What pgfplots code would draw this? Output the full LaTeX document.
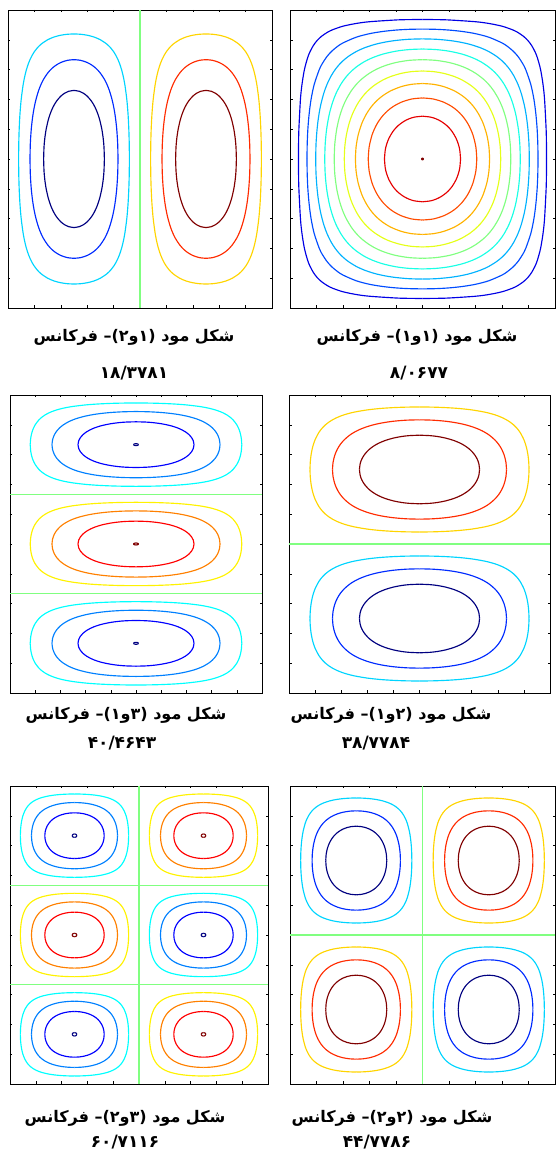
\documentclass[border=0pt]{standalone}
\usepackage{pgfplots}
\usepackage{pgfplotstable}
\pgfplotsset{compat=1.18}
\usepackage{fontspec}
\TeXXeTstate=1
\newfontfamily\fa[Script=Arabic]{DejaVu Sans}

% jet colours
\definecolor{j1}{rgb}{0,0,0.9}
\definecolor{j2}{rgb}{0,0.3,1}
\definecolor{j3}{rgb}{0,0.7,1}
\definecolor{j4}{rgb}{0.1,1,0.9}
\definecolor{j5}{rgb}{0.5,1,0.5}
\definecolor{j6}{rgb}{0.9,1,0.1}
\definecolor{j7}{rgb}{1,0.7,0}
\definecolor{j8}{rgb}{1,0.3,0}
\definecolor{j9}{rgb}{0.9,0,0}
\definecolor{j10}{rgb}{0.5,0,0}
\definecolor{n1}{rgb}{0,0.833,1}
\definecolor{n2}{rgb}{0,0.167,1}
\definecolor{n3}{rgb}{0,0,0.5}
\definecolor{p1}{rgb}{1,0.833,0}
\definecolor{p2}{rgb}{1,0.167,0}
\definecolor{p3}{rgb}{0.5,0,0}
\definecolor{m1}{rgb}{0,1,1}
\definecolor{m2}{rgb}{0,0.5,1}
\definecolor{m3}{rgb}{0,0,1}
\definecolor{m4}{rgb}{0,0,0.5}
\definecolor{q1}{rgb}{1,0.95,0}
\definecolor{q2}{rgb}{1,0.5,0}
\definecolor{q3}{rgb}{1,0,0}
\definecolor{q4}{rgb}{0.5,0,0}
\definecolor{gz}{rgb}{0.5,1,0.5}

% quarter contours of sin(pi u) sin(pi v) = c in a unit cell
\pgfplotstableread[row sep=\\]{u v\\
0.0319 0.50\\ 0.0323 0.45\\ 0.0335 0.40\\ 0.0394 0.30\\ 0.0452 0.25\\ 0.0544 0.20\\ 0.0666 0.16\\ 0.0755 0.14\\ 0.0876 0.12\\ 0.0954 0.11\\ 0.1024 0.1024\\
0.11 0.0954\\ 0.12 0.0876\\ 0.14 0.0755\\ 0.16 0.0666\\ 0.20 0.0544\\ 0.25 0.0452\\ 0.30 0.0394\\ 0.40 0.0335\\ 0.45 0.0323\\ 0.50 0.0319\\
}\lvA
\pgfplotstableread[row sep=\\]{u v\\
0.0641 0.50\\ 0.0649 0.45\\ 0.0674 0.40\\ 0.0721 0.35\\ 0.0795 0.30\\ 0.0913 0.25\\ 0.1105 0.20\\ 0.1218 0.18\\ 0.1363 0.16\\ 0.1476 0.1476\\
0.16 0.1363\\ 0.18 0.1218\\ 0.20 0.1105\\ 0.25 0.0913\\ 0.30 0.0795\\ 0.35 0.0721\\ 0.40 0.0674\\ 0.45 0.0649\\ 0.50 0.0641\\
}\lvB
\pgfplotstableread[row sep=\\]{u v\\
0.0804 0.50\\ 0.0815 0.45\\ 0.0847 0.40\\ 0.0905 0.35\\ 0.1000 0.30\\ 0.1150 0.25\\ 0.1283 0.22\\ 0.1398 0.20\\ 0.1545 0.18\\ 0.1667 0.1667\\
0.18 0.1545\\ 0.20 0.1398\\ 0.22 0.1283\\ 0.25 0.1150\\ 0.30 0.1000\\ 0.35 0.0905\\ 0.40 0.0847\\ 0.45 0.0815\\ 0.50 0.0804\\
}\lvQ
\pgfplotstableread[row sep=\\]{u v\\
0.0970 0.50\\ 0.0982 0.45\\ 0.1022 0.40\\ 0.1076 0.36\\ 0.1156 0.32\\ 0.1273 0.28\\ 0.1395 0.25\\ 0.1560 0.22\\ 0.1705 0.20\\ 0.1845 0.1845\\
0.20 0.1705\\ 0.22 0.1560\\ 0.25 0.1395\\ 0.28 0.1273\\ 0.32 0.1156\\ 0.36 0.1076\\ 0.40 0.1022\\ 0.45 0.0982\\ 0.50 0.0970\\
}\lvC
\pgfplotstableread[row sep=\\]{u v\\
0.1310 0.50\\ 0.1328 0.45\\ 0.1382 0.40\\ 0.1482 0.35\\ 0.1607 0.31\\ 0.1737 0.28\\ 0.1914 0.25\\ 0.2068 0.23\\ 0.2180 0.2180\\
0.23 0.2068\\ 0.25 0.1914\\ 0.28 0.1737\\ 0.31 0.1607\\ 0.35 0.1482\\ 0.40 0.1382\\ 0.45 0.1328\\ 0.50 0.1310\\
}\lvD
\pgfplotstableread[row sep=\\]{u v\\
0.1667 0.50\\ 0.1690 0.45\\ 0.1762 0.40\\ 0.1864 0.36\\ 0.1973 0.33\\ 0.2121 0.30\\ 0.2322 0.27\\ 0.25 0.25\\
0.27 0.2322\\ 0.30 0.2121\\ 0.33 0.1973\\ 0.36 0.1864\\ 0.40 0.1762\\ 0.45 0.1690\\ 0.50 0.1667\\
}\lvE
\pgfplotstableread[row sep=\\]{u v\\
0.2048 0.50\\ 0.2067 0.46\\ 0.2127 0.42\\ 0.2233 0.38\\ 0.2352 0.35\\ 0.2516 0.32\\ 0.2660 0.30\\ 0.2820 0.2820\\
0.30 0.2660\\ 0.32 0.2516\\ 0.35 0.2352\\ 0.38 0.2233\\ 0.42 0.2127\\ 0.46 0.2067\\ 0.50 0.2048\\
}\lvF
\pgfplotstableread[row sep=\\]{u v\\
0.2468 0.50\\ 0.2493 0.46\\ 0.2571 0.42\\ 0.2713 0.38\\ 0.2877 0.35\\ 0.3023 0.33\\ 0.3155 0.3155\\
0.33 0.3023\\ 0.35 0.2877\\ 0.38 0.2713\\ 0.42 0.2571\\ 0.46 0.2493\\ 0.50 0.2468\\
}\lvG
\pgfplotstableread[row sep=\\]{u v\\
0.2699 0.50\\ 0.2728 0.46\\ 0.2790 0.43\\ 0.2892 0.40\\ 0.3045 0.37\\ 0.3185 0.35\\ 0.3333 0.3333\\
0.35 0.3185\\ 0.37 0.3045\\ 0.40 0.2892\\ 0.43 0.2790\\ 0.46 0.2728\\ 0.50 0.2699\\
}\lvT
\pgfplotstableread[row sep=\\]{u v\\
0.2952 0.50\\ 0.2986 0.46\\ 0.3094 0.42\\ 0.3236 0.39\\ 0.3370 0.37\\ 0.3524 0.3524\\
0.37 0.3370\\ 0.39 0.3236\\ 0.42 0.3094\\ 0.46 0.2986\\ 0.50 0.2952\\
}\lvH
\pgfplotstableread[row sep=\\]{u v\\
0.3564 0.50\\ 0.3594 0.47\\ 0.3649 0.45\\ 0.3736 0.43\\ 0.3866 0.41\\ 0.3976 0.3976\\
0.41 0.3866\\ 0.43 0.3736\\ 0.45 0.3649\\ 0.47 0.3594\\ 0.50 0.3564\\
}\lvI
\pgfplotstableread[row sep=\\]{u v\\
0.490 0.500\\ 0.4929 0.4929\\ 0.500 0.490\\
}\lvL
\pgfplotstableread[row sep=\\]{u v\\
0.482 0.500\\ 0.4873 0.4873\\ 0.500 0.482\\
}\lvM

% one contour in a cell (#3,#4) of size (#5,#6), drawn as four mirrored quarters
\newcommand{\cellc}[6]{%
 \addplot[#2,smooth] table[x expr={#3+#5*\thisrow{u}}, y expr={#4+#6*\thisrow{v}}]{#1};
 \addplot[#2,smooth] table[x expr={#3+#5*(1-\thisrow{u})}, y expr={#4+#6*\thisrow{v}}]{#1};
 \addplot[#2,smooth] table[x expr={#3+#5*\thisrow{u}}, y expr={#4+#6*(1-\thisrow{v})}]{#1};
 \addplot[#2,smooth] table[x expr={#3+#5*(1-\thisrow{u})}, y expr={#4+#6*(1-\thisrow{v})}]{#1};
}
\newcommand{\negS}[4]{\cellc{\lvQ}{n1}{#1}{#2}{#3}{#4}\cellc{\lvE}{n2}{#1}{#2}{#3}{#4}\cellc{\lvT}{n3}{#1}{#2}{#3}{#4}}
\newcommand{\posS}[4]{\cellc{\lvQ}{p1}{#1}{#2}{#3}{#4}\cellc{\lvE}{p2}{#1}{#2}{#3}{#4}\cellc{\lvT}{p3}{#1}{#2}{#3}{#4}}
\newcommand{\negN}[5]{\cellc{\lvQ}{m1}{#1}{#2}{#3}{#4}\cellc{\lvE}{m2}{#1}{#2}{#3}{#4}\cellc{\lvT}{m3}{#1}{#2}{#3}{#4}\cellc{#5}{m4}{#1}{#2}{#3}{#4}}
\newcommand{\posN}[5]{\cellc{\lvQ}{q1}{#1}{#2}{#3}{#4}\cellc{\lvE}{q2}{#1}{#2}{#3}{#4}\cellc{\lvT}{q3}{#1}{#2}{#3}{#4}\cellc{#5}{q4}{#1}{#2}{#3}{#4}}

\pgfplotsset{
 modeax/.style={scale only axis, anchor=south west, xmin=0, xmax=1, ymin=0, ymax=1,
  xtick={0.1,0.2,0.3,0.4,0.5,0.6,0.7,0.8,0.9}, ytick={0.1,0.2,0.3,0.4,0.5,0.6,0.7,0.8,0.9},
  xticklabels={}, yticklabels={}, tick align=inside, major tick length=2.5pt,
  axis line style={black, line width=0.9pt}, tick style={black, line width=0.5pt},
  every axis plot/.append style={line width=1.15pt, line join=round}},
}
\tikzset{capt/.style={font=\fa\bfseries\fontsize{16}{19}\selectfont, inner sep=0pt},
 capn/.style={font=\fa\bfseries\fontsize{17}{20}\selectfont, inner sep=0pt}}

\begin{document}
\begin{tikzpicture}[x=1pt,y=1pt]
\path[use as bounding box] (0,0) rectangle (556,1166);

% mode (1,1)
\begin{axis}[modeax, at={(290pt,858pt)}, width=265pt, height=298pt]
\cellc{\lvA}{j1}{0}{0}{1}{1}
\cellc{\lvB}{j2}{0}{0}{1}{1}
\cellc{\lvC}{j3}{0}{0}{1}{1}
\cellc{\lvD}{j4}{0}{0}{1}{1}
\cellc{\lvE}{j5}{0}{0}{1}{1}
\cellc{\lvF}{j6}{0}{0}{1}{1}
\cellc{\lvG}{j7}{0}{0}{1}{1}
\cellc{\lvH}{j8}{0}{0}{1}{1}
\cellc{\lvI}{j9}{0}{0}{1}{1}
\addplot[only marks, mark=*, mark size=1pt, j10] coordinates {(0.5,0.5)};
\end{axis}

% two cells side by side
\begin{axis}[modeax, at={(8pt,858pt)}, width=264pt, height=298pt]
\negS{0}{0}{0.5}{1}
\posS{0.5}{0}{0.5}{1}
\addplot[gz] coordinates {(0.5,0) (0.5,1)};
\end{axis}

% two cells stacked
\begin{axis}[modeax, at={(289pt,473pt)}, width=261pt, height=298pt]
\posS{0}{0.5}{1}{0.5}
\negS{0}{0}{1}{0.5}
\addplot[gz] coordinates {(0,0.5) (1,0.5)};
\end{axis}

% three cells stacked
\begin{axis}[modeax, at={(10pt,473pt)}, width=252pt, height=298pt]
\negN{0}{0.66667}{1}{0.33333}{\lvL}
\posN{0}{0.33333}{1}{0.33333}{\lvL}
\negN{0}{0}{1}{0.33333}{\lvL}
\addplot[gz] coordinates {(0,0.33333) (1,0.33333)};
\addplot[gz] coordinates {(0,0.66667) (1,0.66667)};
\end{axis}

% 2 x 2 cells
\begin{axis}[modeax, at={(290pt,82pt)}, width=265pt, height=298pt]
\negS{0}{0.5}{0.5}{0.5}
\posS{0.5}{0.5}{0.5}{0.5}
\posS{0}{0}{0.5}{0.5}
\negS{0.5}{0}{0.5}{0.5}
\addplot[gz] coordinates {(0.5,0) (0.5,1)};
\addplot[gz] coordinates {(0,0.5) (1,0.5)};
\end{axis}

% 2 x 3 cells
\begin{axis}[modeax, at={(10pt,82pt)}, width=258pt, height=298pt]
\negN{0}{0.66667}{0.5}{0.33333}{\lvM}
\posN{0.5}{0.66667}{0.5}{0.33333}{\lvM}
\posN{0}{0.33333}{0.5}{0.33333}{\lvM}
\negN{0.5}{0.33333}{0.5}{0.33333}{\lvM}
\negN{0}{0}{0.5}{0.33333}{\lvM}
\posN{0.5}{0}{0.5}{0.33333}{\lvM}
\addplot[gz] coordinates {(0.5,0) (0.5,1)};
\addplot[gz] coordinates {(0,0.33333) (1,0.33333)};
\addplot[gz] coordinates {(0,0.66667) (1,0.66667)};
\end{axis}

% captions
\node[capt] at (417,829) {\beginR شکل مود (۱و۱)– فرکانس\endR};
\node[capn] at (419,793) {۸/۰۶۷۷};
\node[capt] at (134,829) {\beginR شکل مود (۱و۲)– فرکانس\endR};
\node[capn] at (134,793) {۱۸/۳۷۸۱};
\node[capt] at (391,451) {\beginR شکل مود (۲و۱)– فرکانس\endR};
\node[capn] at (376,423) {۳۸/۷۷۸۴};
\node[capt] at (126,451) {\beginR شکل مود (۳و۱)– فرکانس\endR};
\node[capn] at (122,423) {۴۰/۴۶۴۳};
\node[capt] at (392,48) {\beginR شکل مود (۲و۲)– فرکانس\endR};
\node[capn] at (377,24) {۴۴/۷۷۸۶};
\node[capt] at (125,48) {\beginR شکل مود (۳و۲)– فرکانس\endR};
\node[capn] at (125,24) {۶۰/۷۱۱۶};
\end{tikzpicture}
\end{document}
